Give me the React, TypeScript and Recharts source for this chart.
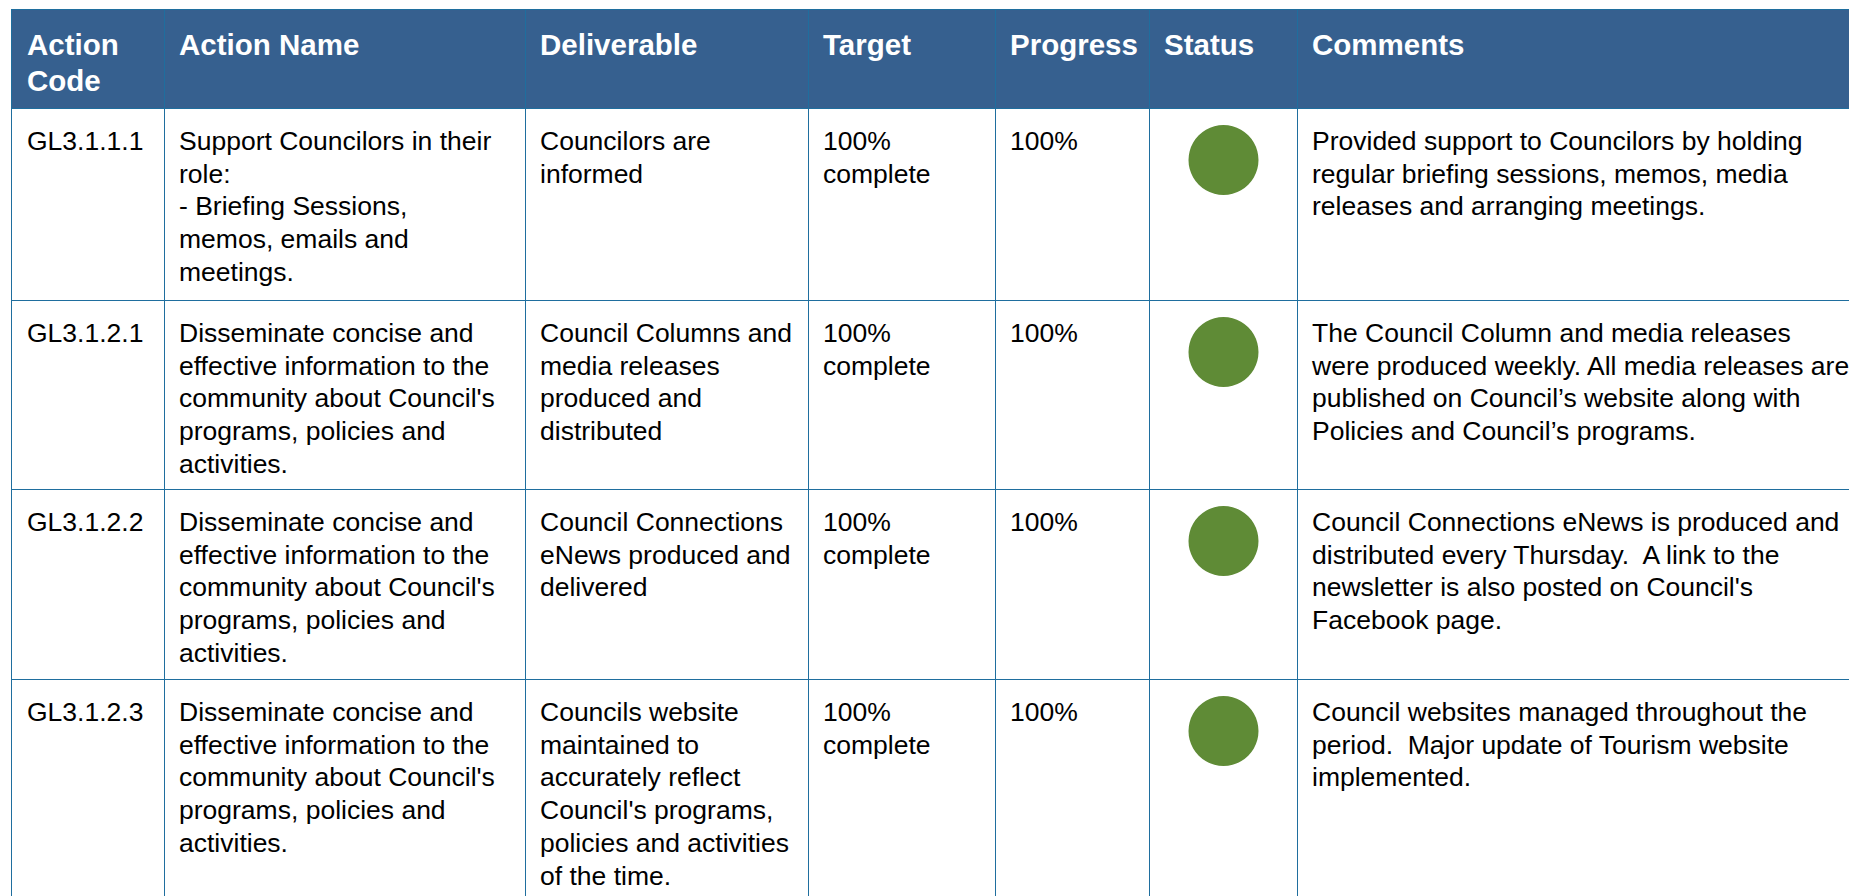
import React from 'react';
import { PieChart, Pie, Cell } from 'recharts';

const headers = ['Action\nCode', 'Action Name', 'Deliverable', 'Target', 'Progress', 'Status', 'Comments'];

const actionCodes = ['GL3.1.1.1', 'GL3.1.2.1', 'GL3.1.2.2', 'GL3.1.2.3'];

const actionNames = [
  'Support Councilors in their\nrole:\n- Briefing Sessions,\nmemos, emails and\nmeetings.',
  "Disseminate concise and\neffective information to the\ncommunity about Council's\nprograms, policies and\nactivities.",
  "Disseminate concise and\neffective information to the\ncommunity about Council's\nprograms, policies and\nactivities.",
  "Disseminate concise and\neffective information to the\ncommunity about Council's\nprograms, policies and\nactivities.",
];

const deliverables = [
  'Councilors are\ninformed',
  'Council Columns and\nmedia releases\nproduced and\ndistributed',
  'Council Connections\neNews produced and\ndelivered',
  "Councils website\nmaintained to\naccurately reflect\nCouncil's programs,\npolicies and activities\nof the time.",
];

const targets = ['100%\ncomplete', '100%\ncomplete', '100%\ncomplete', '100%\ncomplete'];

const progress = [100, 100, 100, 100];

const statuses = ['Completed', 'Completed', 'Completed', 'Completed'];

const comments = [
  'Provided support to Councilors by holding\nregular briefing sessions, memos, media\nreleases and arranging meetings.',
  'The Council Column and media releases\nwere produced weekly. All media releases are\npublished on Council\u2019s website along with\nPolicies and Council\u2019s programs.',
  "Council Connections eNews is produced and\ndistributed every Thursday.  A link to the\nnewsletter is also posted on Council's\nFacebook page.",
  'Council websites managed throughout the\nperiod.  Major update of Tourism website\nimplemented.',
];

const STATUS_COLOR: Record<string, string> = { Completed: '#5F8B36' };

const colWidths = [153, 361, 283, 187, 154, 148, 600];
const rowHeights = [192, 189, 190, 300];
const BORDER = '1px solid #1F6E9E';
const FONT = 'Arial, "Liberation Sans", sans-serif';

function StatusDot({ status, value }: { status: string; value: number }) {
  const data = [{ name: status, value }];
  return (
    <PieChart width={147} height={100} style={{ display: 'block' }}>
      <Pie
        data={data}
        dataKey="value"
        nameKey="name"
        cx="50%"
        cy={46}
        innerRadius={0}
        outerRadius={35}
        startAngle={90}
        endAngle={-270}
        stroke="none"
        isAnimationActive={false}
      >
        {data.map((d, i) => (
          <Cell key={i} fill={STATUS_COLOR[d.name] || '#5F8B36'} />
        ))}
      </Pie>
    </PieChart>
  );
}

export default function App() {
  const thStyle = (i: number): React.CSSProperties => ({
    border: BORDER,
    background: '#36608F',
    color: '#fff',
    fontWeight: 'bold',
    fontSize: 29.5,
    lineHeight: '36px',
    textAlign: 'left',
    verticalAlign: 'top',
    padding: `17px 4px 0 ${i === 0 ? 15 : 14}px`,
    whiteSpace: 'pre',
    overflow: 'hidden',
  });
  const tdStyle = (i: number): React.CSSProperties => ({
    border: BORDER,
    fontSize: 26.5,
    lineHeight: '32.7px',
    color: '#000',
    verticalAlign: 'top',
    padding: i === 5 ? '0' : `16px 4px 0 ${i === 0 ? 15 : 14}px`,
    whiteSpace: 'pre',
    overflow: 'visible',
  });

  const rows = actionCodes.map((code, r) => [
    code,
    actionNames[r],
    deliverables[r],
    targets[r],
    `${progress[r]}%`,
    null,
    comments[r],
  ]);

  return (
    <div
      style={{
        position: 'fixed',
        left: 0,
        top: 0,
        width: 1849,
        height: 896,
        overflow: 'hidden',
        background: '#fff',
        fontFamily: FONT,
      }}
    >
      <table
        style={{
          position: 'absolute',
          left: 11,
          top: 9,
          borderCollapse: 'collapse',
          tableLayout: 'fixed',
          width: colWidths.reduce((a, b) => a + b, 0),
          fontFamily: FONT,
        }}
      >
        <colgroup>
          {colWidths.map((w, i) => (
            <col key={i} style={{ width: w }} />
          ))}
        </colgroup>
        <thead>
          <tr style={{ height: 99 }}>
            {headers.map((h, i) => (
              <th key={i} style={thStyle(i)}>
                {h}
              </th>
            ))}
          </tr>
        </thead>
        <tbody>
          {rows.map((row, r) => (
            <tr key={r} style={{ height: rowHeights[r] }}>
              {row.map((cell, i) => (
                <td key={i} style={tdStyle(i)}>
                  {i === 5 ? <StatusDot status={statuses[r]} value={progress[r]} /> : cell}
                </td>
              ))}
            </tr>
          ))}
        </tbody>
      </table>
    </div>
  );
}
